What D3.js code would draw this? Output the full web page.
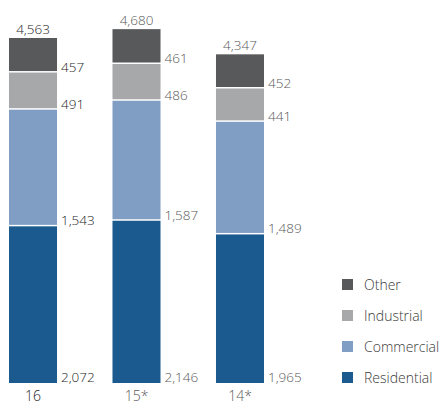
<!DOCTYPE html>
<html>
<head>
<meta charset="utf-8">
<script src="https://cdn.jsdelivr.net/npm/d3@7"></script>
<style>
  html, body { margin: 0; padding: 0; background: #fff; }
  svg { display: block; font-family: "Open Sans", "Lato", sans-serif; }
</style>
</head>
<body>
<svg id="chart" width="447" height="404"></svg>
<script>
// Sales volume by customer segment, stacked bottom to top
const years = ["16", "15*", "14*"];
const segments = ["Residential", "Commercial", "Industrial", "Other"];
const residential = [2072, 2146, 1965];
const commercial = [1543, 1587, 1489];
const industrial = [491, 486, 441];
const other = [457, 461, 452];
const totals = [4563, 4680, 4347];

const colors = {
  Residential: "#1b5a8e",
  Commercial: "#809dc4",
  Industrial: "#a7a8aa",
  Other: "#58595b"
};

const rows = years.map((y, i) => ({
  year: y,
  Residential: residential[i],
  Commercial: commercial[i],
  Industrial: industrial[i],
  Other: other[i],
  total: totals[i]
}));

const svg = d3.select("#chart");
const bottom = 383;

const x = d3.scaleBand()
  .domain(years)
  .range([9, 264])
  .paddingInner(0.536)
  .paddingOuter(0);

const y = d3.scaleLinear()
  .domain([0, 4563])
  .range([bottom, 38]);

const stack = d3.stack().keys(segments);
const series = stack(rows);

// current year is set darker than the restated prior years
const labelColor = (i) => i === 0 ? "#1e1e1e" : "#5a5a5a";
const labelWeight = (i) => i === 0 ? 350 : 300;

const g = svg.append("g");

series.forEach(s => {
  s.forEach((d, i) => {
    const x0 = x(d.data.year);
    const top = y(d[1]);
    const bot = y(d[0]);
    const gap = s.index === 0 ? 0 : 1.5;
    g.append("rect")
      .attr("x", x0)
      .attr("y", top)
      .attr("width", x.bandwidth())
      .attr("height", Math.max(0, bot - top - gap))
      .attr("fill", colors[s.key]);
    // segment value, right of the bar at the segment's lower edge
    g.append("text")
      .attr("x", x0 + x.bandwidth() + 4)
      .attr("y", bot - 1)
      .attr("font-size", 13.5)
      .attr("font-weight", labelWeight(i))
      .attr("fill", labelColor(i))
      .text(d3.format(",")(d[1] - d[0]));
  });
});

// totals above each bar
rows.forEach((r, i) => {
  g.append("text")
    .attr("x", x(r.year) + x.bandwidth() / 2)
    .attr("y", y(r.total) - 4)
    .attr("text-anchor", "middle")
    .attr("font-size", 13.5)
    .attr("font-weight", labelWeight(i))
    .attr("fill", labelColor(i))
    .text(d3.format(",")(r.total));
});

// year axis
const axis = svg.append("g")
  .attr("transform", `translate(0,${bottom})`)
  .call(d3.axisBottom(x).tickSize(0).tickPadding(5));
axis.select(".domain").remove();
axis.selectAll("text")
  .attr("font-size", 14)
  .attr("font-family", "'Open Sans', Lato, sans-serif")
  .attr("dy", "0.9em")
  .attr("font-weight", (d, i) => labelWeight(i))
  .attr("fill", (d, i) => labelColor(i));

// legend
const legendKeys = ["Other", "Industrial", "Commercial", "Residential"];
const legend = svg.append("g").attr("transform", "translate(342,279)");
legendKeys.forEach((k, i) => {
  const row = legend.append("g").attr("transform", `translate(0,${i * 31})`);
  row.append("rect").attr("width", 11).attr("height", 11).attr("fill", colors[k]);
  row.append("text")
    .attr("x", 22)
    .attr("y", 10.5)
    .attr("font-size", 14)
    .attr("font-weight", 300)
    .attr("fill", "#3a3a3a")
    .text(k);
});
</script>
</body>
</html>
